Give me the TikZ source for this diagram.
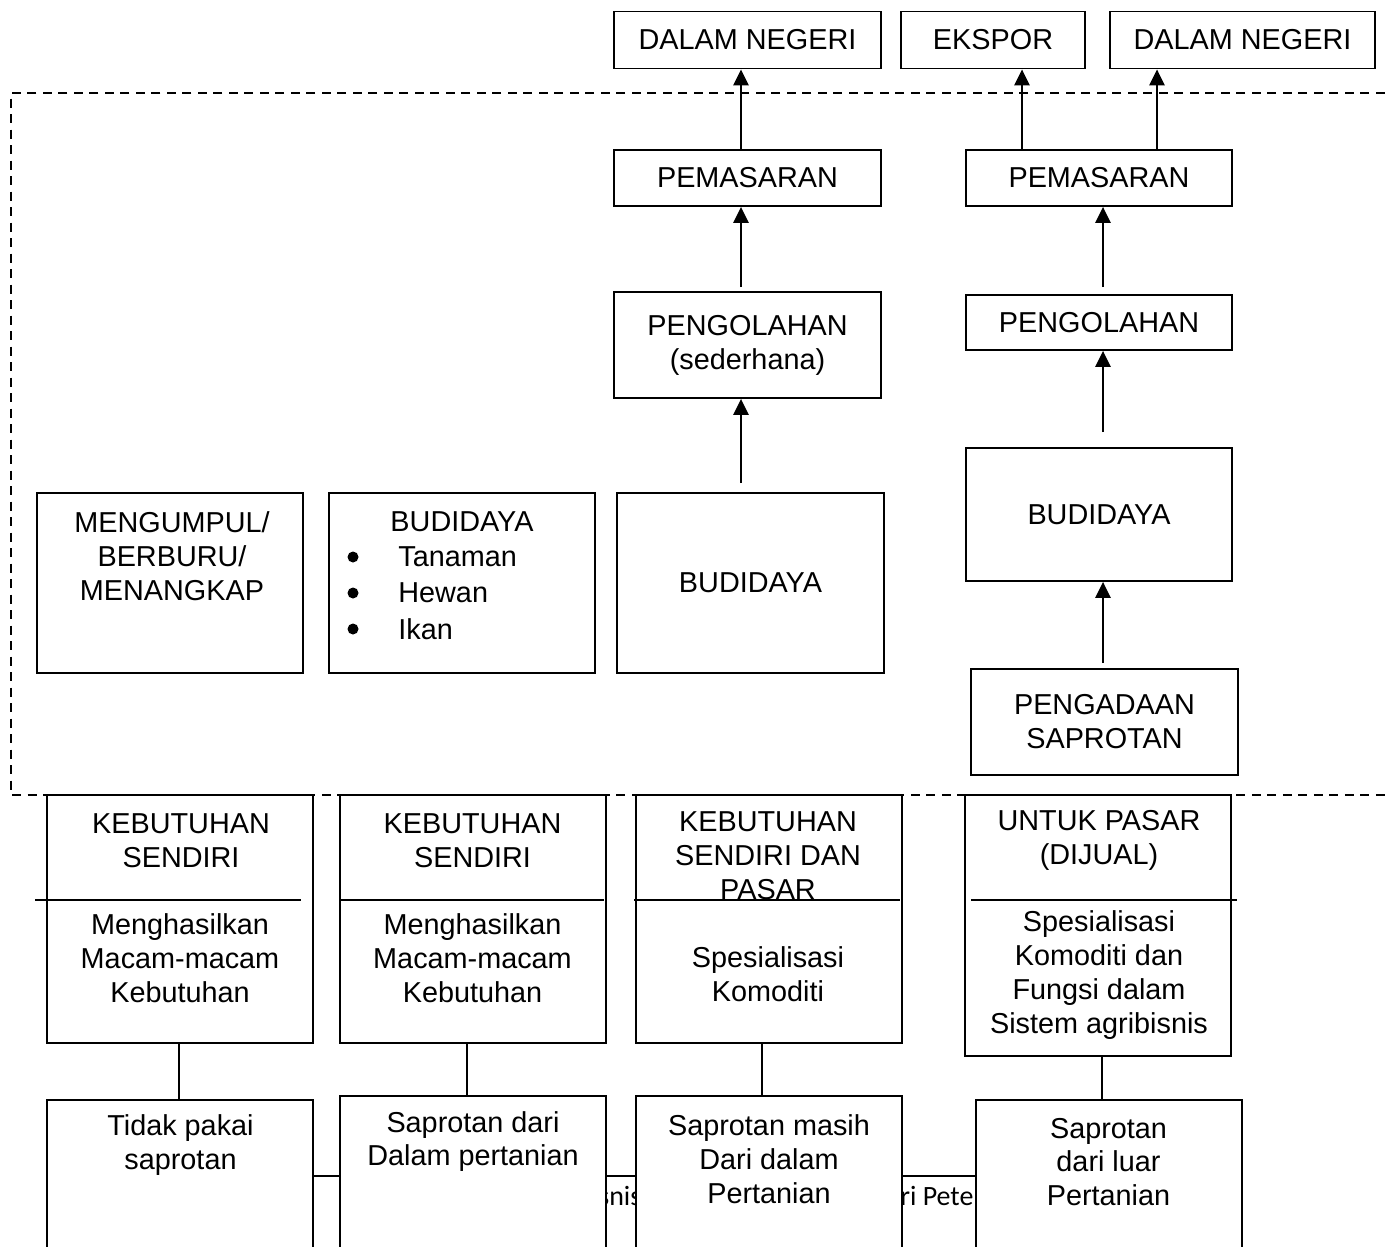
\documentclass[tikz,border=0pt]{standalone}
\usepackage{fontspec}
\setmainfont{Liberation Sans}
\newfontfamily\footfont{Carlito}
\usetikzlibrary{arrows.meta}
\newcommand{\boxfont}{\fontsize{16.4}{19.3}\selectfont}
\newcommand{\pagefoot}{\footfont\fontsize{15.9}{18}\selectfont}

\begin{document}
\begin{tikzpicture}[x=0.02cm,y=-0.02cm,>={Triangle[length=0.32cm,width=0.3cm]},font=\boxfont]
        \tikzstyle{box} = [draw, line width=1pt, fill=white, inner sep=0pt, align=center, minimum width=5.33cm]
        \tikzstyle{txt} = [inner sep=0pt, align=center]
        \tikzstyle{arr} = [->, line width=1.5pt]
        \tikzstyle{link} = [line width=0.6pt]
        \tikzstyle{frame} = [line width=1pt, dash pattern=on 0.18cm off 0.13cm]

        \useasboundingbox (0,0) rectangle (1389,1247);
        \clip (0,0) rectangle (1389,1247);

        % Frame
        \draw[frame] (1400,93) -- (11,93) -- (11,795) -- (1400,795);

        % Footer (behind the boxes)
        \node[txt, font=\pagefoot, anchor=base west] (footA) at (598,1205) {snis};
        \node[txt, font=\pagefoot, anchor=base west] (footB) at (900,1205) {ri Pete};

        % Nodes
        \node[box, minimum height=1.14cm] (dnA) at (747.5,40) {DALAM NEGERI};
        \node[box, minimum width=3.68cm, minimum height=1.14cm] (eks) at (993,40) {EKSPOR};
        \node[box, minimum width=5.30cm, minimum height=1.14cm] (dnB) at (1242.5,40) {DALAM NEGERI};

        \node[box, minimum height=1.12cm] (pemA) at (747.5,178) {PEMASARAN};
        \node[box, minimum height=2.12cm] (pengA) at (747.5,345) {PENGOLAHAN\\(sederhana)};
        \node[box, minimum height=3.6cm] (budA) at (750.5,583) {BUDIDAYA};

        \node[box, minimum height=1.12cm] (pemB) at (1099,178) {PEMASARAN};
        \node[box, minimum height=1.1cm] (pengB) at (1099,322.5) {PENGOLAHAN};
        \node[box, minimum height=2.66cm] (budB) at (1099,514.5) {BUDIDAYA};
        \node[box, minimum height=2.12cm] (sapro) at (1104.5,722) {PENGADAAN\\SAPROTAN};

        \node[box, minimum height=3.6cm] (kumpul) at (170,583) {};
        \node[txt] (kumpulT) at (172,556) {MENGUMPUL/\\BERBURU/\\MENANGKAP};
        \node[box, minimum height=3.6cm] (budL) at (462,583) {};
        \node[txt] (budLT) at (462,522) {BUDIDAYA};
        \foreach \crop [count=\i] in {Tanaman,Hewan,Ikan} {
            \fill (353,521+36*\i) circle[radius=0.11cm];
            \node[txt, anchor=west] (item\i) at (398,521+36*\i) {\crop};
        }

        % bottom row: goals
        \node[box, minimum width=5.32cm, minimum height=4.96cm] (k1) at (180,919) {};
        \node[box, minimum width=5.32cm, minimum height=4.96cm] (k2) at (473,919) {};
        \node[box, minimum width=5.32cm, minimum height=4.96cm] (k3) at (769,919) {};
        \node[box, minimum width=5.32cm, minimum height=5.22cm] (k4) at (1098,925.5) {};
        \draw[line width=1pt] (35,900) -- (301,900);
        \draw[line width=1pt] (339,900) -- (604,900);
        \draw[line width=1pt] (634,900) -- (900,900);
        \draw[line width=1pt] (971,900) -- (1237,900);

        \node[txt] (k1a) at (181,840.5) {KEBUTUHAN\\SENDIRI};
        \node[txt] (k1b) at (180,958) {Menghasilkan\\Macam-macam\\Kebutuhan};
        \node[txt] (k2a) at (472.5,840.5) {KEBUTUHAN\\SENDIRI};
        \node[txt] (k2b) at (472.5,958) {Menghasilkan\\Macam-macam\\Kebutuhan};
        \node[txt] (k3a) at (768,856) {KEBUTUHAN\\SENDIRI DAN\\PASAR};
        \node[txt] (k3b) at (768,974.5) {Spesialisasi\\Komoditi};
        \node[txt] (k4a) at (1099,840) {UNTUK PASAR\\(DIJUAL)};
        \node[txt] (k4b) at (1099,975) {Spesialisasi\\Komoditi dan\\Fungsi dalam\\Sistem agribisnis};

        % bottom row: inputs
        \node[box, minimum width=5.32cm, minimum height=3.2cm] (s1) at (180,1180) {};
        \node[box, minimum width=5.32cm, minimum height=3.28cm] (s2) at (473,1178) {};
        \node[box, minimum width=5.32cm, minimum height=3.28cm] (s3) at (769,1178) {};
        \node[box, minimum width=5.32cm, minimum height=3.2cm] (s4) at (1109,1180) {};
        \node[txt] (s1t) at (180.5,1145) {Tidak pakai\\saprotan};
        \node[txt] (s2t) at (473,1141.5) {Saprotan dari\\Dalam pertanian};
        \node[txt] (s3t) at (769,1159) {Saprotan masih\\Dari dalam\\Pertanian};
        \node[txt] (s4t) at (1108.5,1162) {Saprotan\\dari luar\\Pertanian};

        \coordinate (colA) at (741,0);
        \coordinate (colB) at (1103,0);
        \coordinate (colC) at (1022,0);
        \coordinate (colD) at (1157,0);
        \coordinate (v1) at (179,0);
        \coordinate (v2) at (467,0);
        \coordinate (v3) at (762,0);
        \coordinate (v4) at (1102,0);
        \coordinate (hl) at (0,1176);

        % Edges
        \path (budA.north -| colA) edge[arr, shorten <=0.18cm] (pengA.south -| colA);
        \path (pengA.north -| colA) edge[arr, shorten <=0.08cm] (pemA.south -| colA);
        \path (pemA.north -| colA) edge[arr] (dnA.south -| colA);

        \path (sapro.north -| colB) edge[arr, shorten <=0.1cm] (budB.south -| colB);
        \path (budB.north -| colB) edge[arr, shorten <=0.3cm] (pengB.south -| colB);
        \path (pengB.north -| colB) edge[arr, shorten <=0.14cm] (pemB.south -| colB);
        \path (pemB.north -| colC) edge[arr] (eks.south -| colC);
        \path (pemB.north -| colD) edge[arr] (dnB.south -| colD);

        \draw[link] (k1.south -| v1) -- (s1.north -| v1);
        \draw[link] (k2.south -| v2) -- (s2.north -| v2);
        \draw[link] (k3.south -| v3) -- (s3.north -| v3);
        \draw[link] (k4.south -| v4) -- (s4.north -| v4);
        \draw[line width=1pt] (s1.east |- hl) -- (s2.west |- hl);
        \draw[line width=1pt] (s2.east |- hl) -- (s3.west |- hl);
        \draw[line width=1pt] (s3.east |- hl) -- (s4.west |- hl);
    \end{tikzpicture}
\end{document}
